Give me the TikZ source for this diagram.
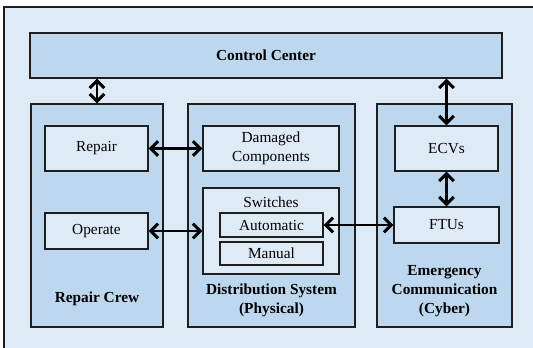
\documentclass[tikz,border=0pt]{standalone}
\usepackage{fontspec}
\setmainfont{Liberation Serif}
\usetikzlibrary{arrows.meta}
\definecolor{Fondo}{RGB}{222, 235, 247}
\definecolor{Col}{RGB}{189, 215, 238}
\definecolor{Borde}{RGB}{30, 30, 30}

\tikzset{
    caja/.style={draw=Borde, line width=1pt, fill=Col, inner sep=0pt},
    bloque/.style={draw=Borde, line width=1pt, fill=Fondo, inner sep=0pt, align=center,
        font=\fontsize{11.5}{14.25}\selectfont},
    rotulo/.style={align=center, inner sep=0pt, font=\fontsize{11.5}{14}\selectfont\bfseries},
    flecha/.style={line width=2.2pt, {Straight Barb[length=5.5pt,width=11pt]}-{Straight Barb[length=5.5pt,width=11pt]}}
}

\begin{document}
\begin{tikzpicture}[x=0.75pt, y=-0.75pt]
    \useasboundingbox (0,0) rectangle (533,347);
    \clip (0,0) rectangle (533,347);

    %Fondo general
    \draw[draw=Borde, line width=1pt, fill=Fondo] (4,7) rectangle (560,370);

    %Centro de control
    \node[caja, minimum width=472*0.75pt, minimum height=45*0.75pt, font=\fontsize{11.5}{14}\selectfont\bfseries] (ctrl) at (266,55.5) {Control Center};

    %Columnas
    \node[caja, minimum width=132*0.75pt, minimum height=223*0.75pt] (crew) at (97,215.5) {};
    \node[caja, minimum width=167*0.75pt, minimum height=223*0.75pt] (dist) at (271.5,215.5) {};
    \node[caja, minimum width=135*0.75pt, minimum height=223*0.75pt] (cyber) at (444.5,215.5) {};

    %Bloques de la cuadrilla
    \node[bloque, minimum width=103*0.75pt, minimum height=45*0.75pt] (repair) at (96.5,148.5) {Repair};
    \node[bloque, minimum width=103*0.75pt, minimum height=36*0.75pt] (operate) at (96.5,231) {Operate};
    \node[rotulo] (lcrew) at (97,299) {Repair Crew};

    %Bloques del sistema fisico
    \node[bloque, minimum width=136*0.75pt, minimum height=45*0.75pt] (damaged) at (271,148.5) {Damaged\\Components};
    \node[bloque, minimum width=136*0.75pt, minimum height=86*0.75pt] (switches) at (271,231) {};
    \node[align=center, inner sep=0pt, font=\fontsize{11.5}{14}\selectfont] (lswitch) at (271,202) {Switches};
    \node[bloque, minimum width=103*0.75pt, minimum height=24*0.75pt] (auto) at (271.5,225) {Automatic};
    \node[bloque, minimum width=103*0.75pt, minimum height=23*0.75pt] (manual) at (271.5,253.5) {Manual};
    \node[rotulo] (ldist) at (271.5,300) {Distribution System\\(Physical)};

    %Bloques de comunicacion
    \node[bloque, minimum width=103*0.75pt, minimum height=45*0.75pt] (ecvs) at (446.5,148.5) {ECVs};
    \node[bloque, minimum width=105*0.75pt, minimum height=36*0.75pt] (ftus) at (446.5,225) {FTUs};
    \node[rotulo] (lcyber) at (444.5,291) {Emergency\\Communication\\(Cyber)};

    %Flechas
    \draw[flecha] (crew.north |- ctrl.south) -- (crew.north);
    \draw[flecha] (ecvs.north |- ctrl.south) -- (ecvs.north);
    \draw[flecha] (repair.east) -- (damaged.west);
    \draw[flecha] (operate.east) -- (operate.east -| switches.west);
    \draw[flecha] (auto.east) -- (ftus.west);
    \draw[flecha] (ecvs.south) -- (ftus.north);
\end{tikzpicture}
\end{document}
